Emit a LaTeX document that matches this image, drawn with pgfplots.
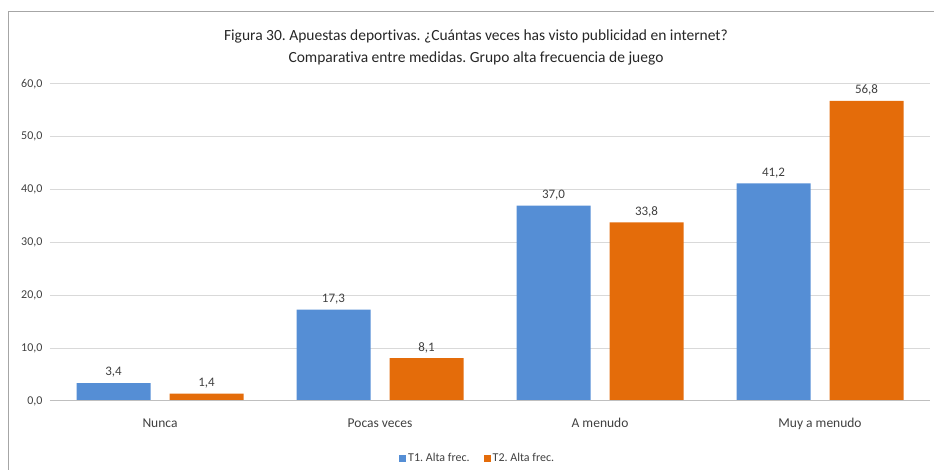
\documentclass[border=0pt]{standalone}
\usepackage{fontspec}
\setmainfont{Carlito}[Ligatures=NoCommon]
\usepackage{pgfplots}
\pgfplotsset{compat=1.18}
\frenchspacing

\definecolor{serieA}{HTML}{558ED5}
\definecolor{serieB}{HTML}{E46C0A}
\definecolor{rejilla}{HTML}{D9D9D9}
\definecolor{base}{HTML}{BFBFBF}
\definecolor{marco}{HTML}{A6A6A6}
\definecolor{texto}{HTML}{404040}

\tikzset{
  decimal/.style={/pgf/number format/fixed, /pgf/number format/fixed zerofill,
    /pgf/number format/precision=1, /pgf/number format/use comma,
    /pgf/number format/assume math mode=true},
}

\begin{document}
\begin{tikzpicture}[x=1pt,y=1pt]
\path[use as bounding box] (0,0) rectangle (934,470);
% chart frame (extends past the right and bottom edges)
\draw[marco, line width=1pt] (8,-5) -- (8,458) -- (940,458);

% title
\node[font=\fontsize{15.5}{18}\selectfont, text=black!85, align=center] at (476,434) {Figura 30. Apuestas deportivas. ¿Cuántas veces has visto publicidad en internet?};
\node[font=\fontsize{15.5}{18}\selectfont, text=black!85, align=center] at (476,412) {Comparativa entre medidas. Grupo alta frecuencia de juego};

\begin{axis}[
  at={(50pt,69pt)}, anchor=south west,
  scale only axis, width=880pt, height=317pt,
  ybar=19pt, bar width=74pt,
  xmin=-0.5, xmax=3.5, ymin=0, ymax=60,
  xtick={0,1,2,3},
  xticklabels={Nunca, Pocas veces, A menudo, Muy a menudo},
  ytick={0,10,20,30,40,50,60},
  axis line style={draw=none},
  major tick length=0pt,
  ymajorgrids, grid style={rejilla, line width=1pt},
  yticklabel style={font=\fontsize{12}{14}\selectfont, text=texto, xshift=-4pt, decimal},
  xticklabel style={font=\fontsize{13.5}{16}\selectfont, text=texto, yshift=-14pt},
  nodes near coords,
  nodes near coords style={font=\fontsize{13}{15}\selectfont, text=texto, yshift=2pt, decimal},
  legend columns=2,
  legend style={at={(0.486,-0.18)}, anchor=center, draw=none, fill=none,
    font=\fontsize{12}{14}\selectfont, text=texto,
    /tikz/every even column/.append style={column sep=12pt}},
  legend image code/.code={\fill[#1] (0pt,-3.5pt) rectangle (7pt,3.5pt);},
]
\addplot[fill=serieA, draw=none] coordinates {(0,3.4) (1,17.3) (2,37.0) (3,41.2)};
\addplot[fill=serieB, draw=none] coordinates {(0,1.4) (1,8.1) (2,33.8) (3,56.8)};
\legend{T1. Alta frec., T2. Alta frec.}
\draw[base, line width=1.2pt] (axis cs:-0.5,0) -- (axis cs:3.5,0);
\end{axis}
\end{tikzpicture}
\end{document}
